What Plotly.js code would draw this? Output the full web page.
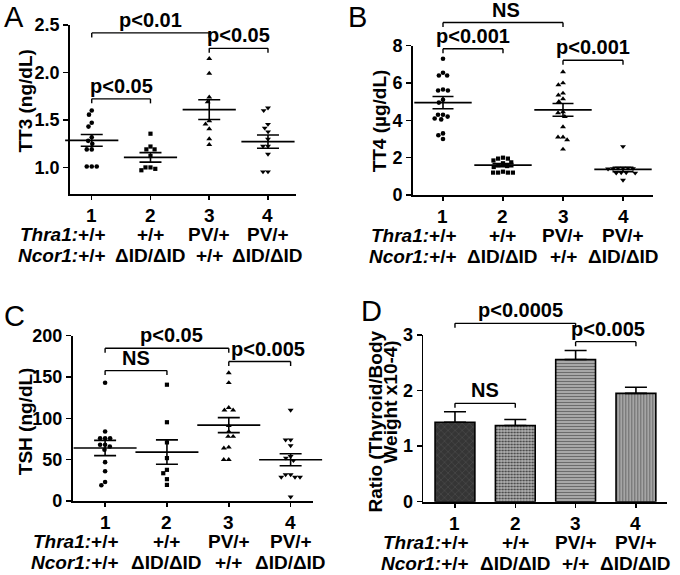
<!DOCTYPE html>
<html><head><meta charset="utf-8">
<script src="https://cdn.plot.ly/plotly-3.0.1.min.js"></script>
<style>html,body{margin:0;padding:0;background:#fff}#chart{width:680px;height:575px}</style>
</head><body><div id="chart"></div>
<script>
// ---------------- DATA ----------------
const groups = [1, 2, 3, 4];
const groupNumbers = ['1', '2', '3', '4'];
const thra1Labels = ['+/+', '+/+', 'PV/+', 'PV/+'];
const ncor1Labels = ['+/+', 'ΔID/ΔID', '+/+', 'ΔID/ΔID'];

// Panel A: TT3 (ng/dL)
const tt3G1 = [1.60, 1.556, 1.47, 1.43, 1.317, 1.28, 1.25, 1.19, 1.19, 1.01, 1.01, 1.01];
const tt3G2 = [1.355, 1.22, 1.19, 1.19, 1.12, 1.00, 0.97, 0.985, 1.00];
const tt3G3 = [2.145, 1.99, 1.74, 1.69, 1.49, 1.455, 1.405, 1.30, 1.24];
const tt3G4 = [1.627, 1.60, 1.455, 1.415, 1.376, 1.30, 1.225, 1.225, 1.14, 0.955, 0.955];
const tt3Mean = [1.285, 1.106, 1.609, 1.272];
const tt3Sem = [0.062, 0.05, 0.104, 0.07];
const tt3Ticks = [1.0, 1.5, 2.0, 2.5];
const tt3Stats = [
  {a: 1, b: 3, level: 2.417, text: 'p<0.01'},
  {a: 3, b: 4, level: 2.254, text: 'p<0.05'},
  {a: 1, b: 2, level: 1.722, text: 'p<0.05'}
];

// Panel B: TT4 (µg/dL)
const tt4G1 = [7.3, 6.55, 6.4, 6.4, 5.65, 5.6, 5.6, 5.1, 4.95, 4.3, 4.3, 4.2, 4.1, 4.05, 3.3, 3.2, 3.0];
const tt4G2 = [2.0, 1.95, 1.95, 1.85, 1.75, 1.7, 1.6, 1.55, 1.5, 1.25, 1.2, 1.2, 1.2, 1.2];
const tt4G3 = [6.6, 6.0, 5.9, 5.45, 5.35, 5.15, 5.0, 4.45, 4.4, 4.2, 3.65, 3.1, 3.1, 2.95, 2.45];
const tt4G4 = [2.6, 1.45, 1.45, 1.45, 1.42, 1.42, 1.4, 1.2, 1.2, 1.18, 1.18, 0.8];
const tt4Mean = [4.95, 1.6, 4.56, 1.37];
const tt4Sem = [0.33, 0.08, 0.34, 0.12];
const tt4Ticks = [0, 2, 4, 6, 8];
const tt4Stats = [
  {a: 1, b: 3, level: 9.24, text: 'NS'},
  {a: 1, b: 2, level: 7.84, text: 'p<0.001'},
  {a: 3, b: 4, level: 7.22, text: 'p<0.001'}
];

// Panel C: TSH (ng/dL)
const tshG1 = [143, 84, 76, 76, 76, 68, 68, 66, 62, 47, 36, 23, 19];
const tshG2 = [140.7, 95.3, 70.9, 51.9, 37.7, 33.6, 26.4, 19.5];
const tshG3 = [155, 143, 113, 110, 110, 91, 84, 78, 78, 65, 64, 50, 50];
const tshG4 = [110, 74, 74, 67, 54, 52, 49, 32, 29, 29, 29, 32, 5];
const tshMean = [64.1, 59.2, 91.8, 49.9];
const tshSem = [9.2, 14.8, 9.1, 7.3];
const tshTicks = [0, 50, 100, 150, 200];
const tshStats = [
  {a: 1, b: 3, level: 184.9, text: 'p<0.05'},
  {a: 3, b: 4, level: 168.7, text: 'p<0.005'},
  {a: 1, b: 2, level: 157.8, text: 'NS'}
];

// Panel D: Thyroid/Body weight ratio (x10-4)
const ratioMean = [1.43, 1.37, 2.56, 1.95];
const ratioSem = [0.19, 0.11, 0.16, 0.11];
const ratioTicks = [0, 1, 2, 3];
const ratioStats = [
  {a: 1, b: 3, level: 3.21, text: 'p<0.0005'},
  {a: 3, b: 4, level: 2.88, text: 'p<0.005'},
  {a: 1, b: 2, level: 1.77, text: 'NS'}
];

// ---------------- LAYOUT HELPERS ----------------
const W = 680, H = 575;
const FONT = 'Liberation Sans, Arial, Helvetica, sans-serif';
const BLACK = '#000';
const B = t => '<b>' + t + '</b>';

const panels = [
  {id: '', letter: 'A', letterPos: [2, -1], box: [70, 296, 25, 194], xr: [0.63, 4.477], yr: [0.72, 2.5],
   ticks: tt3Ticks, dec: 1, title: ['TT3 (ng/dL)'], titlePos: [[-44, 0.547]],
   groupsData: [tt3G1, tt3G2, tt3G3, tt3G4], mean: tt3Mean, sem: tt3Sem, stats: tt3Stats,
   meanPx: 38, capPx: 22, textShift: [0, 0, 0]},
  {id: '2', letter: 'B', letterPos: [346, -1], box: [413, 653, 45.7, 195], xr: [0.5, 4.5], yr: [0, 8],
   ticks: tt4Ticks, dec: 0, title: ['TT4 (µg/dL)'], titlePos: [[-34, 0.5]],
   groupsData: [tt4G1, tt4G2, tt4G3, tt4G4], mean: tt4Mean, sem: tt4Sem, stats: tt4Stats,
   meanPx: 41, capPx: 21, textShift: [3, 0, 0]},
  {id: '3', letter: 'C', letterPos: [2, 298], box: [72.7, 312.7, 335.7, 501], xr: [0.476, 4.357], yr: [0, 200],
   ticks: tshTicks, dec: 0, title: ['TSH (ng/dL)'], titlePos: [[-46.5, 0.484]],
   groupsData: [tshG1, tshG2, tshG3, tshG4], mean: tshMean, sem: tshSem, stats: tshStats,
   meanPx: 45, capPx: 22, textShift: [5, 8, 0]},
  {id: '4', letter: 'D', letterPos: [359, 293], box: [423.3, 666.7, 335, 501.7], xr: [0.475, 4.51], yr: [0, 3],
   ticks: ratioTicks, dec: 0, title: ['Ratio (Thyroid/Body', 'Weight x10-4)'], titlePos: [[-47.5, 0.48], [-32.5, 0.6]],
   bars: true, mean: ratioMean, sem: ratioSem, stats: ratioStats,
   meanPx: 0, capPx: 22, textShift: [5, 2, 0]}
];

// simple beeswarm: horizontal pixel offsets so markers do not overlap
function swarm(values, pxPerUnit, d) {
  const order = values.map((v, i) => i).sort((a, b) => values[b] - values[a]);
  const placed = [];
  const off = new Array(values.length).fill(0);
  for (const i of order) {
    const y = values[i] * pxPerUnit;
    const near = placed.filter(p => Math.abs(p.y - y) < d);
    const cands = [0];
    near.forEach(p => {
      const dx = Math.sqrt(d * d - (p.y - y) * (p.y - y));
      cands.push(p.x + dx, p.x - dx);
    });
    cands.sort((a, b) => (Math.abs(a) - Math.abs(b)) || (a - b));
    let x = 0;
    for (const c of cands) {
      if (near.every(p => Math.hypot(p.x - c, p.y - y) >= d - 1e-6)) { x = c; break; }
    }
    placed.push({x, y});
    off[i] = x;
  }
  return off;
}

const symbols = ['circle', 'square', 'triangle-up', 'triangle-down'];
const symSize = [4.6, 4.2, 5.2, 5.2];

// bar fill styles for panel D (one per group)
const barStyles = [
  {bg: '#353535', fg: '#505050', shape: 'x', size: 5, solidity: 0.2},
  {bg: '#b4b4b4', fg: '#3a3a3a', shape: '.', size: 3, solidity: 0.4},
  {bg: '#bcbcbc', fg: '#6c6c6c', shape: '-', size: 3, solidity: 0.5},
  {bg: '#b8b8b8', fg: '#6a6a6a', shape: '|', size: 3, solidity: 0.5}
];

const traces = [];
const shapes = [];
const annotations = [];
const layout = {
  width: W, height: H,
  margin: {l: 0, r: 0, t: 0, b: 0},
  paper_bgcolor: '#fff', plot_bgcolor: 'rgba(0,0,0,0)',
  showlegend: false,
  font: {family: FONT, color: BLACK},
  barmode: 'overlay'
};

panels.forEach(P => {
  const xa = 'x' + P.id, ya = 'y' + P.id;
  const xKey = 'xaxis' + P.id, yKey = 'yaxis' + P.id;
  const [px0, px1, py0, py1] = P.box;
  const plotW = px1 - px0, plotH = py1 - py0;
  const catPx = plotW / (P.xr[1] - P.xr[0]);
  const unitPx = plotH / (P.yr[1] - P.yr[0]);
  const dom = v => (v - P.yr[0]) / (P.yr[1] - P.yr[0]);

  layout[xKey] = {
    domain: [px0 / W, px1 / W], range: P.xr, anchor: ya,
    showline: true, linecolor: BLACK, linewidth: 1.8,
    ticks: 'outside', ticklen: 4, tickwidth: 1.5, tickcolor: BLACK,
    tickvals: groups, showticklabels: false,
    showgrid: false, zeroline: false, fixedrange: true
  };
  layout[yKey] = {
    domain: [1 - py1 / H, 1 - py0 / H], range: P.yr, anchor: xa,
    showline: true, linecolor: BLACK, linewidth: 1.8,
    ticks: 'outside', ticklen: 5, tickwidth: 1.5, tickcolor: BLACK,
    tickvals: P.ticks, ticktext: P.ticks.map(v => B(v.toFixed(P.dec))),
    tickfont: {family: FONT, size: 18, color: BLACK},
    showgrid: false, zeroline: false, fixedrange: true
  };

  if (P.bars) {
    groups.forEach((g, gi) => {
      const st = barStyles[gi];
      traces.push({
        type: 'bar', x: [g], y: [P.mean[gi]], xaxis: xa, yaxis: ya, width: 0.66,
        marker: {
          color: st.bg,
          line: {color: BLACK, width: 1.6},
          pattern: {shape: st.shape, bgcolor: st.bg, fgcolor: st.fg, fgopacity: 1,
                    size: st.size, solidity: st.solidity, fillmode: 'replace'}
        },
        error_y: {type: 'data', array: [P.sem[gi]], arrayminus: [0], visible: true,
                  color: BLACK, thickness: 1.6, width: P.capPx / 2},
        hoverinfo: 'skip'
      });
    });
  } else {
    P.groupsData.forEach((vals, gi) => {
      const off = swarm(vals, unitPx, 5);
      traces.push({
        type: 'scatter', mode: 'markers', xaxis: xa, yaxis: ya,
        x: vals.map((v, i) => groups[gi] + off[i] / catPx), y: vals,
        marker: {symbol: symbols[gi], size: symSize[gi], color: BLACK, line: {width: 0}},
        cliponaxis: false, hoverinfo: 'skip'
      });
    });
    traces.push({
      type: 'scatter', mode: 'markers', xaxis: xa, yaxis: ya,
      x: groups, y: P.mean,
      marker: {symbol: 'line-ew', size: P.meanPx, color: BLACK, line: {color: BLACK, width: 1.7}},
      error_y: {type: 'data', array: P.sem, visible: true, color: BLACK, thickness: 1.6, width: P.capPx / 2},
      cliponaxis: false, hoverinfo: 'skip'
    });
  }

  // significance brackets
  const tip = 4.5 / plotH;
  P.stats.forEach((s, si) => {
    const yb = dom(s.level);
    const ln = {color: BLACK, width: 1.4};
    shapes.push({type: 'line', xref: xa, yref: ya + ' domain', x0: s.a, x1: s.b, y0: yb, y1: yb, line: ln});
    shapes.push({type: 'line', xref: xa, yref: ya + ' domain', x0: s.a, x1: s.a, y0: yb, y1: yb - tip, line: ln});
    shapes.push({type: 'line', xref: xa, yref: ya + ' domain', x0: s.b, x1: s.b, y0: yb, y1: yb - tip, line: ln});
    annotations.push({
      xref: xa, yref: ya + ' domain', x: (s.a + s.b) / 2, y: yb, xanchor: 'center', yanchor: 'bottom',
      xshift: P.textShift[si], yshift: 0, showarrow: false, text: B(s.text),
      font: {family: FONT, size: 20, color: BLACK}
    });
  });

  // category label rows
  const rowFont = {family: FONT, size: 19, color: BLACK};
  groups.forEach((g, gi) => {
    annotations.push({xref: xa, yref: ya + ' domain', x: g, y: 0, yshift: -21.5, xanchor: 'center', yanchor: 'middle',
      showarrow: false, text: B(groupNumbers[gi]), font: rowFont});
    if (gi === 0) {
      annotations.push({xref: xa, yref: ya + ' domain', x: g, y: 0, xshift: 16, yshift: -40.5, xanchor: 'right', yanchor: 'middle',
        showarrow: false, text: B('<i>Thra1:</i>' + thra1Labels[gi]), font: rowFont});
      annotations.push({xref: xa, yref: ya + ' domain', x: g, y: 0, xshift: 16, yshift: -61.5, xanchor: 'right', yanchor: 'middle',
        showarrow: false, text: B('<i>Ncor1:</i>' + ncor1Labels[gi]), font: rowFont});
    } else {
      annotations.push({xref: xa, yref: ya + ' domain', x: g, y: 0, yshift: -40.5, xanchor: 'center', yanchor: 'middle',
        showarrow: false, text: B(thra1Labels[gi]), font: rowFont});
      annotations.push({xref: xa, yref: ya + ' domain', x: g, y: 0, yshift: -61.5, xanchor: 'center', yanchor: 'middle',
        showarrow: false, text: B(ncor1Labels[gi]), font: rowFont});
    }
  });

  // y-axis title(s)
  P.title.forEach((t, ti) => {
    annotations.push({xref: xa + ' domain', yref: ya + ' domain', x: 0, y: P.titlePos[ti][1], xshift: P.titlePos[ti][0],
      xanchor: 'center', yanchor: 'middle', textangle: -90, showarrow: false, text: B(t),
      font: {family: FONT, size: 19, color: BLACK}});
  });

  // panel letter
  annotations.push({xref: 'paper', yref: 'paper', x: P.letterPos[0] / W, y: 1 - P.letterPos[1] / H,
    xanchor: 'left', yanchor: 'top', showarrow: false, text: P.letter,
    font: {family: FONT, size: 29, color: BLACK}});
});

layout.shapes = shapes;
layout.annotations = annotations;

Plotly.newPlot('chart', traces, layout, {staticPlot: true, displayModeBar: false});
</script>
</body></html>
